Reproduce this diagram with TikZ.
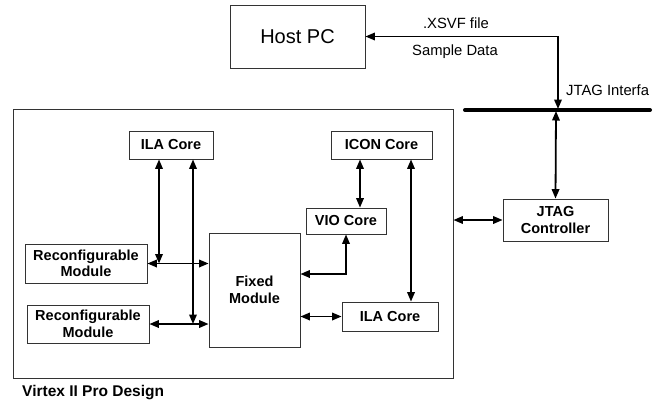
\documentclass[tikz,border=0pt]{standalone}
\usepackage{fontspec}
\setmainfont{Liberation Sans}
\usetikzlibrary{arrows.meta}
\begin{document}
\begin{tikzpicture}[x=1pt,y=-1pt,
  box/.style={draw=black!80, line width=0.8pt, fill=white, inner sep=0pt, align=center,
    font=\fontsize{14.5}{16.5}\selectfont\bfseries},
  conn/.style={line width=1.8pt, {Triangle[length=9.5pt,width=7.5pt]}-{Triangle[length=9.5pt,width=7.5pt]}},
  lbl/.style={font=\fontsize{14.8}{16.5}\selectfont, inner sep=0pt}]
\useasboundingbox (0,0) rectangle (660,400);
% outer design box
\node[box, minimum width=440pt, minimum height=269pt] (outer) at (233,243.5) {};
\node[box, font=\fontsize{20}{22}\selectfont, minimum width=135pt, minimum height=63pt] (host) at (297.5,36.5) {Host PC};
\node[box, minimum width=84pt, minimum height=28pt] (ila1) at (171,145) {ILA Core};
\node[box, minimum width=122pt, minimum height=39pt] (rec1) at (86,263.5) {Reconfigurable\\Module};
\node[box, minimum width=122pt, minimum height=38pt] (rec2) at (88,324) {Reconfigurable\\Module};
\node[box, minimum width=91pt, minimum height=114pt] (fixed) at (254.5,290) {Fixed\\Module};
\node[box, minimum width=101pt, minimum height=28pt] (icon) at (381.5,145) {ICON Core};
\node[box, minimum width=80pt, minimum height=26pt] (vio) at (346,221) {VIO Core};
\node[box, minimum width=96pt, minimum height=29pt] (ila2) at (390,316.5) {ILA Core};
\node[box, minimum width=105pt, minimum height=42pt] (jtag) at (555.5,220) {JTAG\\Controller};
% bus
\coordinate (busL) at (465,110);
\coordinate (busR) at (650,110);
\draw[line width=4pt, line cap=round] (busL) -- (busR);
\coordinate (busA) at (558,109);
\coordinate (busB) at (556,111);
% connectors
\draw[conn] (host.east) -| (busA);
\draw[conn] (busB) -- (jtag.north);
\draw[conn] (outer.east |- jtag.west) -- (jtag.west);
\draw[conn] ([xshift=-12pt]ila1.south) -- ([xshift=-12pt]ila1.south |- rec1.east);
\draw[conn] (rec1.east) -- (fixed.west |- rec1.east);
\draw[conn] ([xshift=22pt]ila1.south) -- ([xshift=22pt]ila1.south |- rec2.east);
\draw[conn] (rec2.east) -- (fixed.west |- rec2.east);
\draw[conn] ([xshift=14pt]vio.north) -- ([xshift=14pt]vio.north |- icon.south);
\draw[conn] ([xshift=21pt]ila2.north) -- ([xshift=21pt]ila2.north |- icon.south);
\draw[conn] (vio.south) |- ([yshift=16pt]fixed.east);
\draw[conn] (fixed.east |- ila2.west) -- (ila2.west);
% labels
\node[lbl] (xsvf) at (456,23) {.XSVF file};
\node[lbl] (sdata) at (455,52) {Sample Data};
\node[lbl, anchor=west] (jtagif) at (566,90) {JTAG Interfa};
\node[lbl, anchor=west, font=\fontsize{15.5}{17}\selectfont\bfseries] (virtex) at (22,393) {Virtex II Pro Design};
\end{tikzpicture}
\end{document}
